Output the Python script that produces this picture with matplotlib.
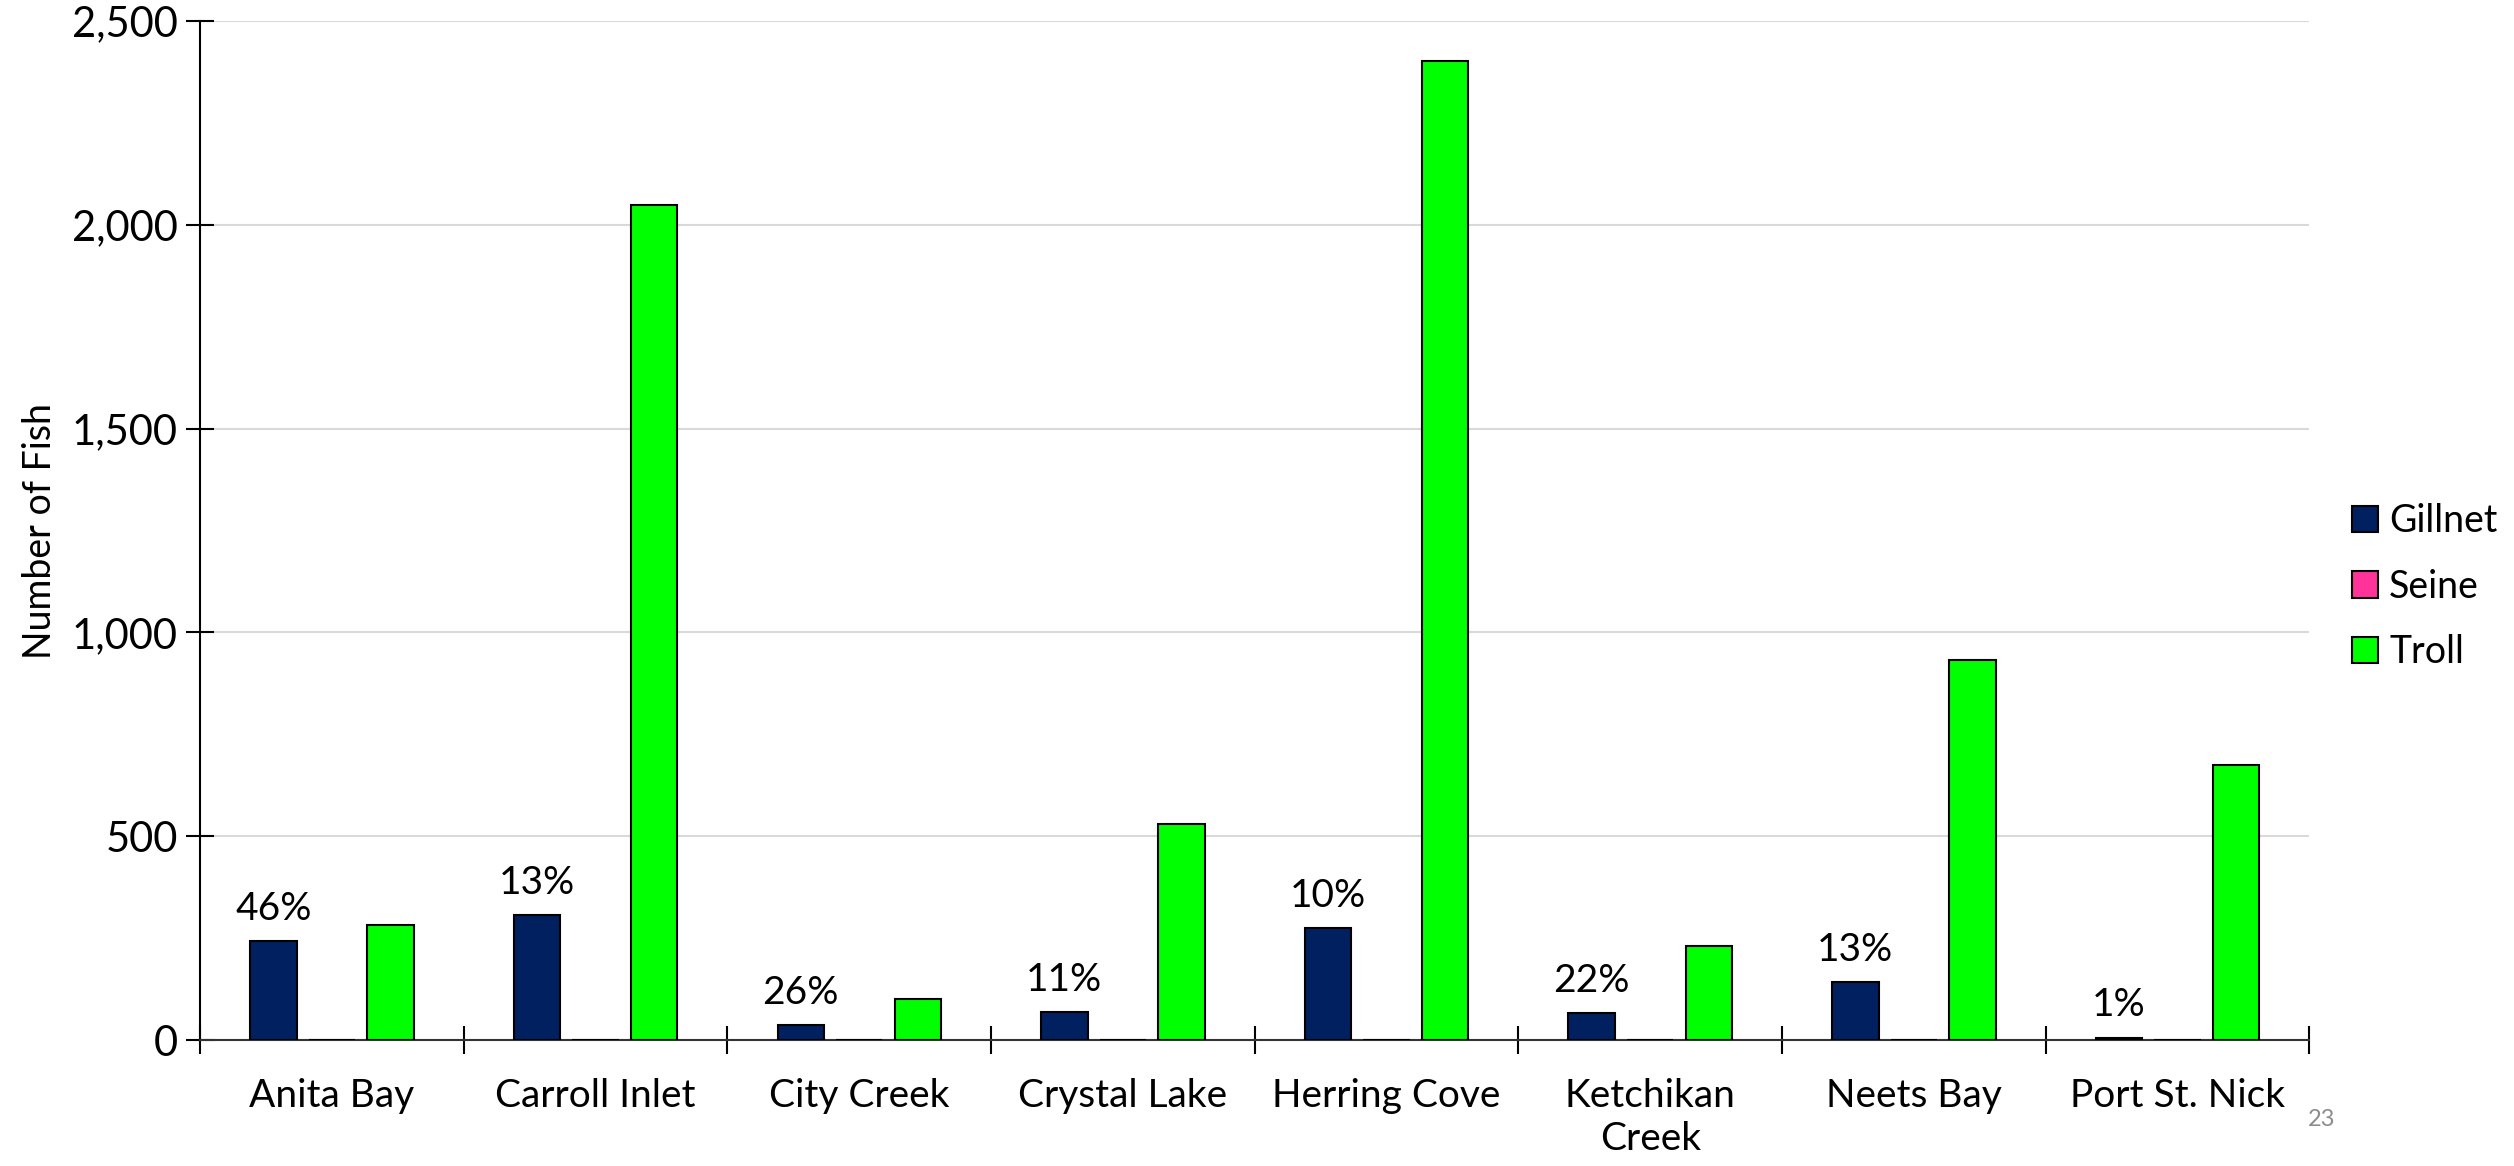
import numpy as np
import matplotlib.pyplot as plt
from matplotlib.ticker import FuncFormatter

plt.rcParams['font.family'] = ['Lato', 'DejaVu Sans']

sites = ['Anita Bay', 'Carroll Inlet', 'City Creek', 'Crystal Lake',
         'Herring Cove', 'Ketchikan\nCreek', 'Neets Bay', 'Port St. Nick']
gillnet = [243, 307, 36, 68, 275, 66, 143, 6]
seine = [0, 0, 0, 0, 0, 0, 0, 0]
troll = [283, 2048, 101, 530, 2402, 232, 932, 676]
pct_labels = ['46%', '13%', '26%', '11%', '10%', '22%', '13%', '1%']

colors = {'Gillnet': '#002060', 'Seine': '#ff3399', 'Troll': '#00ff00'}

fig = plt.figure(figsize=(25.14, 11.66), dpi=100)
ax = fig.add_axes([0.0796, 0.108, 0.839, 0.874])

x = np.arange(len(sites))
w = 0.176
off = 0.222
ax.bar(x - off, gillnet, w, color=colors['Gillnet'], edgecolor='black', linewidth=1.5, label='Gillnet', zorder=3)
ax.bar(x, seine, w, color=colors['Seine'], edgecolor='black', linewidth=1.5, label='Seine', zorder=3)
ax.bar(x + off, troll, w, color=colors['Troll'], edgecolor='black', linewidth=1.5, label='Troll', zorder=3)

# percent labels above gillnet bars
for xi, g, t in zip(x, gillnet, pct_labels):
    ax.text(xi - off, g + 35, t, ha='center', va='bottom', fontsize=28)

ax.set_xlim(-0.5, len(sites) - 0.5)
ax.set_ylim(0, 2500)
ax.set_yticks(np.arange(0, 2501, 500))
ax.yaxis.set_major_formatter(FuncFormatter(lambda v, p: f'{int(v):,}'))
ax.grid(axis='y', color='#d9d9d9', linewidth=1.5, zorder=0)

# category labels between boundary ticks
ax.set_xticks(np.arange(-0.5, len(sites)), minor=False)
ax.set_xticklabels([])
ax.set_xticks(x, minor=True)
ax.set_xticklabels(sites, minor=True, fontsize=28, va='top', linespacing=1.25)
ax.tick_params(axis='x', which='minor', length=0, pad=27)
ax.tick_params(axis='x', which='major', direction='inout', length=20, width=1.5)
ax.tick_params(axis='y', direction='inout', length=20, width=1.5, labelsize=30, pad=6)

for s in ['top', 'right']:
    ax.spines[s].set_visible(False)
ax.spines['left'].set_linewidth(1.5)
ax.spines['bottom'].set_linewidth(1.5)
ax.spines['bottom'].set_color('#333333')

ax.set_ylabel('Number of Fish', fontsize=27, labelpad=10)

ax.legend(loc='center left', bbox_to_anchor=(1.004, 0.445), frameon=False, fontsize=27,
          handlelength=0.7, handleheight=0.7, handletextpad=0.3, labelspacing=0.78)

fig.text(0.918, 0.04, '23', color='#8c8c8c', fontsize=17, ha='left', va='center')

fig.savefig('out.png', dpi=100)
